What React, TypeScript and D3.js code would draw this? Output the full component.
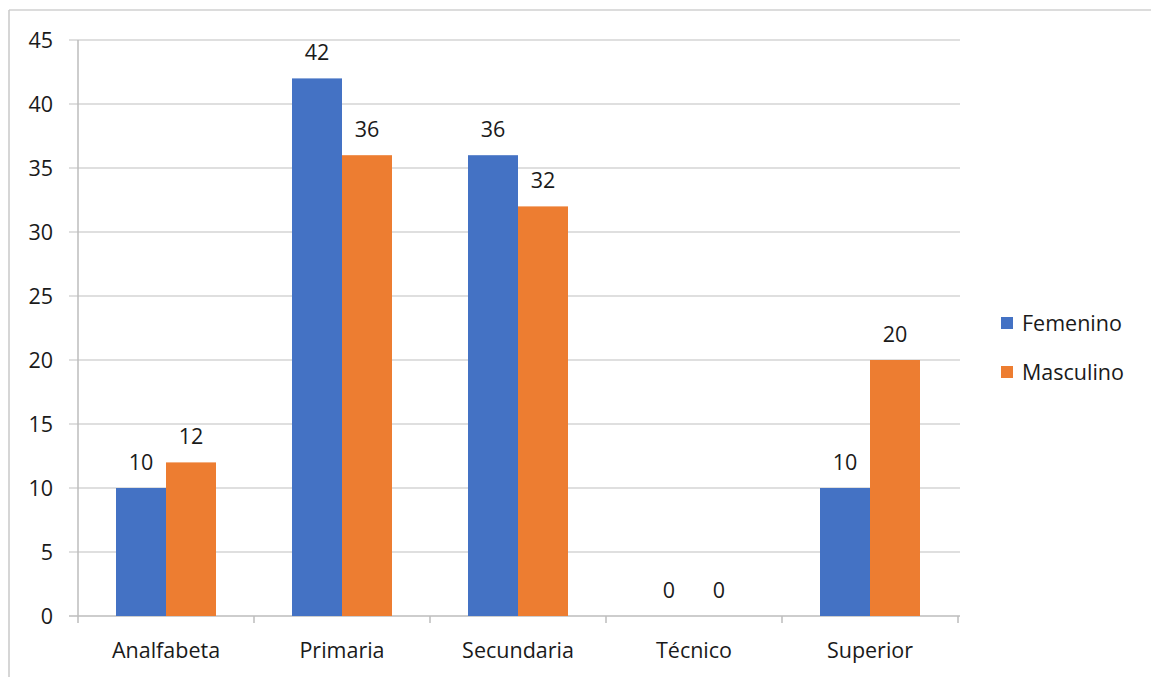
import React from "react";
import * as d3 from "d3";

const categories = ["Analfabeta", "Primaria", "Secundaria", "Técnico", "Superior"];
const seriesNames = ["Femenino", "Masculino"];
const femenino = [10, 42, 36, 0, 10];
const masculino = [12, 36, 32, 0, 20];
const yTicks = [0, 5, 10, 15, 20, 25, 30, 35, 40, 45];
const colors = ["#4472C4", "#ED7D31"];

const W = 1151;
const H = 677;
const plot = { left: 78, right: 958, top: 40, bottom: 616 };
const font = "'Open Sans', Lato, sans-serif";
const fontSize = 21.5;
const textColor = "#1a1a1a";

export default function App() {
  const x = d3.scaleBand<string>().domain(categories).range([plot.left, plot.right]).paddingInner(0).paddingOuter(0);
  const inner = d3.scaleBand<string>().domain(seriesNames).range([0, x.bandwidth()]).paddingInner(0).paddingOuter(0.76);
  const y = d3.scaleLinear().domain([0, 45]).range([plot.bottom, plot.top]);
  const series = [femenino, masculino];

  return (
    <svg width={W} height={H} style={{ position: "absolute", left: 0, top: 0, background: "#fff" }}>
      {/* outer chart frame */}
      <line x1={9} x2={W} y1={10} y2={10} stroke="#d0d0d0" strokeWidth={1.5} />
      <line x1={9} x2={9} y1={10} y2={H} stroke="#c8c8c8" strokeWidth={1.5} />

      {/* horizontal gridlines and y tick labels */}
      {yTicks.map((t) => (
        <g key={t}>
          <line x1={plot.left - 9} x2={plot.right + 2} y1={y(t)} y2={y(t)} stroke={t === 0 ? "#bdbdbd" : "#d4d4d4"} strokeWidth={1.5} />
          <text x={53} y={y(t)} dy="0.36em" textAnchor="end" fontFamily={font} fontSize={fontSize} fill={textColor}>
            {t}
          </text>
        </g>
      ))}

      {/* y axis line */}
      <line x1={plot.left} x2={plot.left} y1={plot.top} y2={plot.bottom} stroke="#bdbdbd" strokeWidth={1.5} />

      {/* category ticks */}
      {[...categories.map((c) => x(c) as number), plot.right].map((px, i) => (
        <line key={i} x1={px} x2={px} y1={plot.bottom} y2={plot.bottom + 7} stroke="#bdbdbd" strokeWidth={1.5} />
      ))}

      {/* bars and value labels */}
      {categories.map((c, ci) => (
        <g key={c} transform={`translate(${x(c)},0)`}>
          {seriesNames.map((s, si) => {
            const v = series[si][ci];
            const bx = inner(s) as number;
            return (
              <g key={s}>
                <rect x={bx} y={y(v)} width={inner.bandwidth()} height={plot.bottom - y(v)} fill={colors[si]} />
                <text
                  x={bx + inner.bandwidth() / 2}
                  y={y(v) - 18}
                  textAnchor="middle"
                  fontFamily={font}
                  fontSize={fontSize}
                  fill={textColor}
                >
                  {v}
                </text>
              </g>
            );
          })}
          <text x={x.bandwidth() / 2} y={658} textAnchor="middle" fontFamily={font} fontSize={fontSize} fill={textColor}>
            {c}
          </text>
        </g>
      ))}

      {/* legend */}
      {seriesNames.map((s, i) => (
        <g key={s} transform={`translate(1001,${317 + i * 49})`}>
          <rect x={0} y={0} width={12} height={12} fill={colors[i]} />
          <text x={21} y={6} dy="0.36em" fontFamily={font} fontSize={fontSize} fill={textColor}>
            {s}
          </text>
        </g>
      ))}
    </svg>
  );
}
